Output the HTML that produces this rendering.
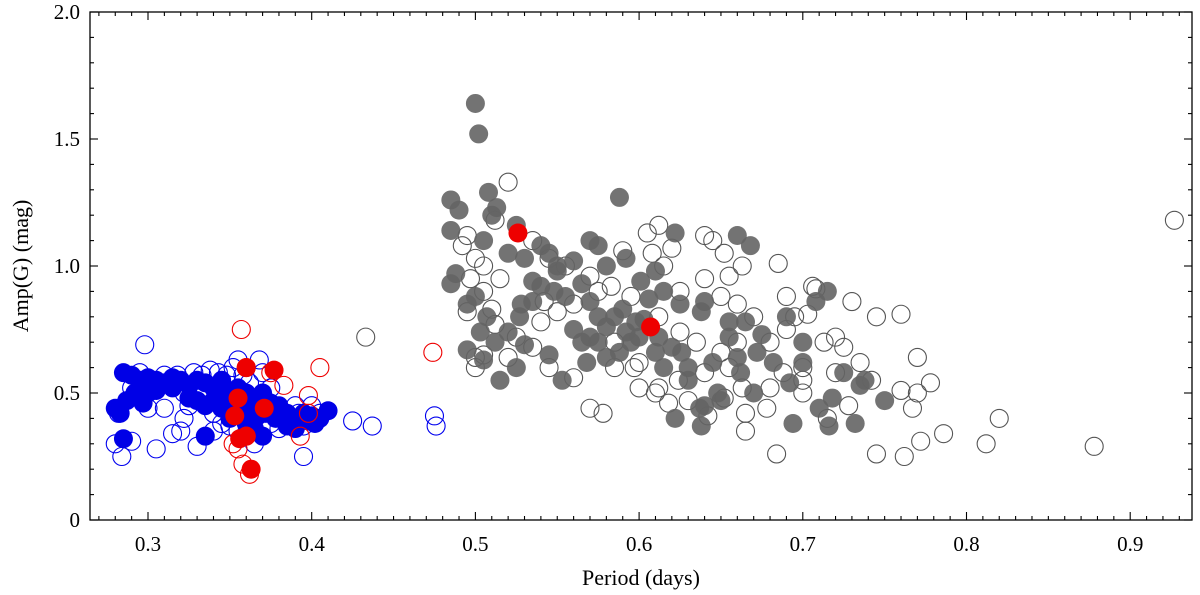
<!DOCTYPE html>
<html><head><meta charset="utf-8"><style>
html,body{margin:0;padding:0;background:#fff;}
svg{display:block;font-family:"Liberation Serif",serif;}
</style></head><body>
<svg id="chart" width="1200" height="595" viewBox="0 0 1200 595" xmlns="http://www.w3.org/2000/svg">
<g id="marks"></g>
<g id="axes"></g>
</svg>
<script>
const xTicks=[0.3,0.4,0.5,0.6,0.7,0.8,0.9];
const xTickLabels=["0.3","0.4","0.5","0.6","0.7","0.8","0.9"];
const yTicks=[0,0.5,1.0,1.5,2.0];
const yTickLabels=["0","0.5","1.0","1.5","2.0"];
const grayOpenP=[0.520,0.512,0.495,0.492,0.500,0.505,0.515,0.505,0.495,0.500,0.505,0.520,0.497,0.535,0.545,0.555,0.570,0.583,0.590,0.605,0.612,0.620,0.640,0.645,0.652,0.608,0.615,0.640,0.655,0.663,0.685,0.690,0.708,0.703,0.730,0.745,0.760,0.770,0.760,0.770,0.778,0.767,0.745,0.762,0.772,0.786,0.812,0.820,0.878,0.927,0.735,0.725,0.713,0.700,0.720,0.728,0.715,0.700,0.688,0.680,0.678,0.665,0.684,0.665,0.652,0.642,0.630,0.618,0.610,0.600,0.600,0.585,0.578,0.570,0.560,0.545,0.535,0.525,0.540,0.550,0.560,0.575,0.595,0.625,0.650,0.660,0.670,0.680,0.690,0.660,0.650,0.635,0.625,0.612,0.585,0.597,0.512,0.510,0.500,0.542,0.700,0.742,0.706,0.695,0.720,0.624,0.612,0.640,0.655,0.663,0.433];
const grayOpenA=[1.33,1.18,1.12,1.08,1.03,1.00,0.95,0.90,0.82,0.64,0.65,0.64,0.95,1.10,1.03,1.00,0.96,0.92,1.06,1.13,1.16,1.07,1.12,1.10,1.05,1.05,1.00,0.95,0.96,1.00,1.01,0.88,0.91,0.81,0.86,0.80,0.81,0.64,0.51,0.50,0.54,0.44,0.26,0.25,0.31,0.34,0.30,0.40,0.29,1.18,0.62,0.68,0.70,0.60,0.58,0.45,0.40,0.50,0.58,0.52,0.44,0.35,0.26,0.42,0.48,0.41,0.47,0.46,0.50,0.52,0.62,0.60,0.42,0.44,0.56,0.60,0.68,0.72,0.78,0.82,0.85,0.90,0.88,0.90,0.88,0.85,0.80,0.70,0.75,0.70,0.66,0.70,0.74,0.80,0.70,0.60,0.77,0.83,0.60,0.86,0.55,0.55,0.92,0.80,0.72,0.55,0.52,0.58,0.60,0.52,0.72];
const grayFillP=[0.500,0.502,0.485,0.490,0.508,0.513,0.510,0.525,0.588,0.485,0.505,0.520,0.530,0.540,0.545,0.550,0.560,0.570,0.575,0.580,0.592,0.601,0.610,0.622,0.660,0.668,0.488,0.485,0.495,0.500,0.507,0.503,0.512,0.520,0.527,0.535,0.540,0.548,0.555,0.565,0.570,0.575,0.580,0.585,0.590,0.560,0.565,0.570,0.575,0.595,0.603,0.612,0.620,0.626,0.630,0.625,0.638,0.655,0.665,0.675,0.660,0.690,0.700,0.708,0.715,0.700,0.682,0.662,0.655,0.645,0.630,0.615,0.610,0.600,0.598,0.592,0.530,0.525,0.515,0.505,0.495,0.545,0.553,0.568,0.580,0.588,0.640,0.638,0.622,0.637,0.650,0.648,0.670,0.692,0.694,0.716,0.718,0.732,0.735,0.738,0.750,0.710,0.725,0.672,0.640,0.606,0.615,0.550,0.535,0.528];
const grayFillA=[1.64,1.52,1.26,1.22,1.29,1.23,1.20,1.16,1.27,1.14,1.10,1.05,1.03,1.08,1.05,1.00,1.02,1.10,1.08,1.00,1.03,0.94,0.98,1.13,1.12,1.08,0.97,0.93,0.85,0.88,0.80,0.74,0.70,0.74,0.80,0.86,0.92,0.90,0.88,0.93,0.86,0.80,0.76,0.80,0.83,0.75,0.70,0.72,0.70,0.70,0.79,0.72,0.68,0.66,0.60,0.85,0.82,0.78,0.78,0.73,0.64,0.80,0.70,0.86,0.90,0.62,0.62,0.58,0.72,0.62,0.55,0.60,0.66,0.72,0.78,0.74,0.69,0.60,0.55,0.63,0.67,0.65,0.55,0.62,0.64,0.66,0.45,0.37,0.40,0.44,0.47,0.50,0.50,0.54,0.38,0.37,0.48,0.38,0.53,0.55,0.47,0.44,0.58,0.66,0.86,0.87,0.90,0.98,0.94,0.85];
const blueOpenP=[0.298,0.282,0.280,0.284,0.290,0.305,0.315,0.320,0.330,0.340,0.345,0.350,0.355,0.368,0.370,0.375,0.380,0.385,0.395,0.392,0.400,0.425,0.437,0.475,0.476,0.290,0.295,0.305,0.310,0.318,0.322,0.328,0.333,0.338,0.343,0.348,0.352,0.358,0.362,0.300,0.310,0.322,0.340,0.355,0.365,0.375,0.390,0.405,0.335,0.325,0.345,0.360,0.372,0.380,0.395];
const blueOpenA=[0.69,0.42,0.30,0.25,0.31,0.28,0.34,0.35,0.29,0.35,0.38,0.37,0.63,0.63,0.58,0.52,0.36,0.40,0.25,0.42,0.45,0.39,0.37,0.41,0.37,0.52,0.58,0.54,0.57,0.57,0.50,0.58,0.57,0.59,0.58,0.57,0.60,0.57,0.54,0.44,0.44,0.40,0.42,0.35,0.30,0.38,0.45,0.42,0.50,0.45,0.46,0.45,0.47,0.43,0.37];
const blueFillP=[0.285,0.290,0.295,0.300,0.305,0.310,0.315,0.320,0.325,0.330,0.335,0.340,0.345,0.350,0.355,0.360,0.365,0.370,0.375,0.380,0.385,0.390,0.395,0.400,0.405,0.410,0.280,0.283,0.287,0.292,0.297,0.300,0.325,0.330,0.335,0.345,0.355,0.362,0.367,0.372,0.378,0.385,0.390,0.398,0.402,0.285,0.335,0.360,0.365,0.370,0.350,0.340,0.315,0.305];
const blueFillA=[0.58,0.57,0.55,0.56,0.55,0.54,0.56,0.55,0.53,0.55,0.54,0.52,0.55,0.50,0.52,0.50,0.48,0.50,0.46,0.45,0.42,0.40,0.42,0.41,0.40,0.43,0.44,0.42,0.47,0.50,0.46,0.50,0.48,0.47,0.45,0.44,0.45,0.43,0.41,0.42,0.40,0.37,0.36,0.39,0.38,0.32,0.33,0.38,0.36,0.33,0.40,0.47,0.52,0.51];
const redOpenP=[0.357,0.360,0.375,0.383,0.398,0.405,0.474,0.352,0.355,0.358,0.362,0.393,0.360,0.398];
const redOpenA=[0.75,0.60,0.58,0.53,0.49,0.60,0.66,0.30,0.28,0.22,0.18,0.33,0.33,0.42];
const redFillP=[0.526,0.607,0.360,0.377,0.355,0.353,0.371,0.356,0.360,0.363];
const redFillA=[1.13,0.76,0.60,0.59,0.48,0.41,0.44,0.32,0.33,0.20];

const X0=90,X1=1192,Y0=520,Y1=12;
const xMin=0.3-(148-X0)/1637, xMax=xMin+(X1-X0)/1637;
const yMin=0,yMax=2.0;
function sx(v){return X0+(v-xMin)/(xMax-xMin)*(X1-X0);}
function sy(v){return Y0-(v-yMin)/(yMax-yMin)*(Y0-Y1);}
const NS="http://www.w3.org/2000/svg";
const marks=document.getElementById('marks');
const axes=document.getElementById('axes');
function mk(tag,attrs,parent){const e=document.createElementNS(NS,tag);for(const k in attrs)e.setAttribute(k,attrs[k]);parent.appendChild(e);return e;}
function series(P,A,name,fill,stroke){
  const g=mk('g',{},marks);
  
  
  for(let i=0;i<P.length;i++){
    const c=mk('circle',{cx:sx(P[i]),cy:sy(A[i]),r:fill?9.5:9,fill:fill||'none',stroke:stroke||'none','stroke-width':1.1},g);
    
    
  }
}
series(grayOpenP,grayOpenA,'gray-open',null,'#555');
series(grayFillP,grayFillA,'gray-filled','rgba(100,100,100,0.9)',null);
series(blueOpenP,blueOpenA,'blue-open',null,'#0000ee');
series(blueFillP,blueFillA,'blue-filled','#0000e6',null);
series(redOpenP,redOpenA,'red-open',null,'#ee0000');
series(redFillP,redFillA,'red-filled','#ee0000',null);

const frame=mk('rect',{x:X0,y:Y1,width:X1-X0,height:Y0-Y1,fill:'none',stroke:'#000','stroke-width':1.3},axes);


for(let k=Math.ceil(xMin*100);k<=Math.floor(xMax*100);k++){
  const x=sx(k/100);const major=k%10===0;const L=major?8:4;
  mk('line',{x1:x,x2:x,y1:Y0,y2:Y0-L,stroke:'#000','stroke-width':1.1},axes);
  mk('line',{x1:x,x2:x,y1:Y1,y2:Y1+L,stroke:'#000','stroke-width':1.1},axes);
}
for(let k=0;k<=20;k++){
  const y=sy(k/10);const major=k%5===0;const L=major?8:4;
  mk('line',{x1:X0,x2:X0+L,y1:y,y2:y,stroke:'#000','stroke-width':1.1},axes);
  mk('line',{x1:X1,x2:X1-L,y1:y,y2:y,stroke:'#000','stroke-width':1.1},axes);
}
xTicks.forEach((v,i)=>{
  const t=mk('text',{x:sx(v),y:Y0+31,'text-anchor':'middle','font-size':21},axes);
  t.textContent=xTickLabels[i];
  
  
});
yTicks.forEach((v,i)=>{
  const t=mk('text',{x:X0-10,y:sy(v)+7,'text-anchor':'end','font-size':21},axes);
  t.textContent=yTickLabels[i];
  
  
});
const xt=mk('text',{x:641,y:585,'text-anchor':'middle','font-size':22},axes);
xt.textContent='Period (days)';


const yt=mk('text',{x:0,y:0,'text-anchor':'middle','font-size':22,transform:'translate(28,266) rotate(-90)'},axes);
yt.textContent='Amp(G) (mag)';


</script>
</body></html>
